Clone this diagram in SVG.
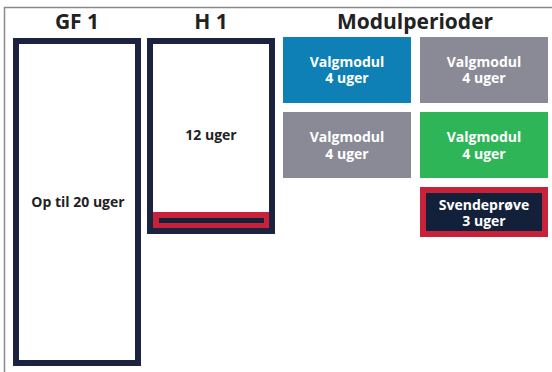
<svg xmlns="http://www.w3.org/2000/svg" width="552" height="372" viewBox="0 0 552 372">
<style>
.hdr{font-family:"Open Sans","Liberation Sans",sans-serif;font-weight:700;font-size:21px;fill:#222;text-anchor:middle}
.lbl{font-family:"Open Sans","Liberation Sans",sans-serif;font-weight:700;font-size:14px;text-anchor:middle}
.dk{fill:#222}
.wt{fill:#fff}
.col{fill:#fff;stroke:#1c2340;stroke-width:6}
</style>
<rect x="0" y="0" width="552" height="372" fill="#fff"/>
<path d="M4.5 372 V7.5 H552" fill="none" stroke="#8a8a8a" stroke-width="1.5"/>
<text class="hdr" x="77" y="29">GF 1</text>
<text class="hdr" x="211" y="29">H 1</text>
<text class="hdr" x="415" y="29">Modulperioder</text>
<g id="gf1">
<rect class="col" x="16" y="41" width="122" height="322"/>
<text class="lbl dk" x="78" y="207">Op til 20 uger</text>
</g>
<g id="h1">
<rect class="col" x="150" y="41" width="122" height="190"/>
<text class="lbl dk" x="211" y="140">12 uger</text>
<rect x="153" y="212" width="116" height="16" fill="#c8213a"/>
<rect x="159" y="218" width="105" height="5" fill="#13203a"/>
</g>
<g id="m1">
<rect x="283" y="37" width="128" height="66" fill="#0e80b5"/>
<text class="lbl wt" x="347" y="66.5">Valgmodul</text>
<text class="lbl wt" x="347" y="83">4 uger</text>
</g>
<g id="m2">
<rect x="420" y="37" width="128" height="66" fill="#8a8a96"/>
<text class="lbl wt" x="484" y="66.5">Valgmodul</text>
<text class="lbl wt" x="484" y="83">4 uger</text>
</g>
<g id="m3">
<rect x="283" y="112" width="128" height="66" fill="#8a8a96"/>
<text class="lbl wt" x="347" y="142">Valgmodul</text>
<text class="lbl wt" x="347" y="158.5">4 uger</text>
</g>
<g id="m4">
<rect x="420" y="112" width="128" height="66" fill="#2db558"/>
<text class="lbl wt" x="484" y="142">Valgmodul</text>
<text class="lbl wt" x="484" y="158.5">4 uger</text>
</g>
<g id="svend">
<rect x="423" y="190" width="122" height="44" fill="#13203a" stroke="#c8213a" stroke-width="6"/>
<text class="lbl wt" x="484" y="209.5">Svendeprøve</text>
<text class="lbl wt" x="484" y="226">3 uger</text>
</g>
<g id="connectors"></g>
</svg>
